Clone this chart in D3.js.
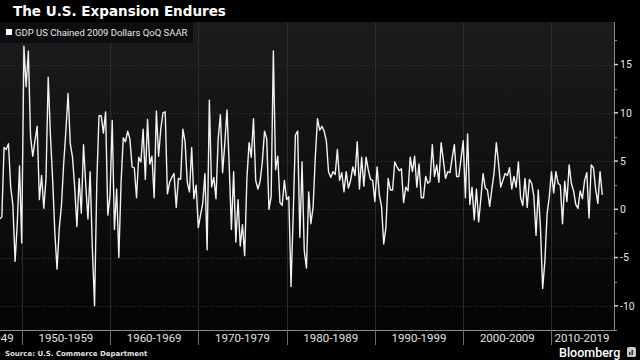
<!DOCTYPE html>
<html>
<head>
<meta charset="utf-8">
<script src="https://cdn.jsdelivr.net/npm/d3@7"></script>
<style>
  html, body { margin: 0; padding: 0; background: #000; }
  svg { display: block; }
</style>
</head>
<body>
<svg id="chart" width="640" height="360"></svg>
<script>
// ---- Data (US GDP, chained 2009 dollars, QoQ SAAR %, quarterly, from 1947 Q2) ----
const firstYear = 1947;
const firstQuarter = 2;
const gdpQoQ = [
  -1.0, -0.8, 6.4,
  6.2, 6.8, 2.3, 0.4,
  -5.4, -1.4, 4.5, -3.5,
  16.9, 12.7, 16.4, 7.5,
  5.5, 7.1, 8.6, 1.0,
  3.5, 0.1, 3.2, 13.7,
  7.7, 3.1, -2.4, -6.2,
  -2.0, 0.4, 4.7, 8.1,
  12.0, 6.8, 5.4, 2.3,
  -1.8, 3.2, -0.4, 6.7,
  2.6, -1.0, 3.9, -4.1,
  -10.0, 2.6, 9.7, 9.7,
  7.9, 10.1, -0.6, 1.4,
  9.2, -2.1, 2.1, -5.0,
  2.7, 7.4, 7.0, 8.1,
  7.3, 4.4, 4.3, 1.2,
  5.4, 4.9, 8.3, 3.1,
  9.3, 4.7, 5.5, 1.2,
  10.2, 5.5, 8.3, 10.0,
  10.1, 1.6, 2.8, 3.3,
  3.7, 0.2, 3.2, 3.1,
  8.3, 7.0, 2.8, 1.8,
  6.4, 1.1, 2.5, -1.9,
  -0.6, 0.6, 3.7, -4.2,
  11.3, 2.3, 3.3, 1.1,
  7.3, 9.8, 3.8, 6.8,
  10.3, 4.5, -2.1, 3.9,
  -3.4, 1.0, -3.8, -1.6,
  -4.8, 3.1, 6.9, 5.4,
  9.4, 3.0, 2.1, 2.9,
  4.9, 8.1, 7.3, 0.0,
  1.3, 16.4, 4.1, 5.5,
  0.7, 0.4, 3.0, 1.0,
  1.3, -8.0, -0.5, 7.7,
  8.1, -2.9, 4.9, -4.3,
  -6.1, 1.8, -1.5, 0.2,
  5.4, 9.4, 8.2, 8.6,
  8.1, 7.1, 3.9, 3.3,
  3.9, 3.6, 6.2, 3.0,
  3.8, 1.8, 3.9, 2.2,
  3.0, 4.4, 3.5, 7.0,
  2.1, 5.4, 2.4, 5.4,
  4.1, 3.1, 3.0, 0.8,
  4.4, 1.5, 0.3, -3.6,
  -1.9, 3.2, 2.0, 2.0,
  4.9, 4.4, 4.0, 4.2,
  0.7, 2.3, 1.9, 5.4,
  3.9, 5.5, 2.3, 4.7,
  1.2, 1.2, 3.4, 2.7,
  2.9, 6.7, 3.4, 4.6,
  2.8, 6.9, 5.1, 3.2,
  3.9, 3.8, 5.3, 6.7,
  3.4, 3.4, 5.2, 7.1,
  1.2, 7.8, 0.5, 2.3,
  -1.1, 2.1, -1.3, 1.1,
  3.7, 2.2, 2.0, 0.3,
  2.1, 3.8, 6.9, 4.8,
  2.3, 3.0, 3.7, 3.5,
  4.3, 2.1, 3.4, 2.3,
  4.9, 1.2, 0.4, 3.2,
  0.2, 3.1, 2.7, 1.4,
  -2.7, 2.0, -1.9, -8.2,
  -5.4, -0.5, 1.3, 3.9,
  1.7, 3.9, 2.7, 2.5,
  -1.5, 2.9, 0.8, 4.6,
  2.7, 1.9, 0.5, 0.1,
  1.9, 1.1, 3.0, 3.8,
  -0.9, 4.6, 4.3, 2.1,
  0.6, 3.9, 1.5
];
const decadeStarts = [1940, 1950, 1960, 1970, 1980, 1990, 2000, 2010];
const decadeLabels = ["1940-1949", "1950-1959", "1960-1969", "1970-1979", "1980-1989", "1990-1999", "2000-2009", "2010-2019"];
const yTicks = [-10, -5, 0, 5, 10, 15];
const yMinorTicks = [-12.5, -7.5, -2.5, 2.5, 7.5, 12.5, 17.5];
const titleText = "The U.S. Expansion Endures";
const legendText = "GDP US Chained 2009 Dollars QoQ SAAR";
const sourceText = "Source: U.S. Commerce Department";

// quarter-end positions in decimal years
const points = gdpQoQ.map((v, i) => {
  const qIndex = (firstQuarter - 1) + i;
  const year = firstYear + Math.floor(qIndex / 4);
  const q = qIndex % 4 + 1;
  return { t: year + q * 0.25, v: v };
});

const svg = d3.select("#chart");
const plot = { left: 0, right: 614, top: 22, bottom: 330 };

const x = d3.scaleLinear().domain([1947.54, 2017.08]).range([plot.left, plot.right]);
const y = d3.scaleLinear().domain([-12.51, 19.41]).range([plot.bottom, plot.top]);

// background
svg.append("rect").attr("width", 640).attr("height", 360).attr("fill", "#000");
const defs = svg.append("defs");
const grad = defs.append("linearGradient").attr("id", "bg").attr("x1", 0).attr("y1", 0).attr("x2", 0).attr("y2", 1);
grad.append("stop").attr("offset", "0%").attr("stop-color", "#1c1c1f");
grad.append("stop").attr("offset", "100%").attr("stop-color", "#040406");
defs.append("clipPath").attr("id", "clip").append("rect")
  .attr("x", plot.left).attr("y", plot.top)
  .attr("width", plot.right - plot.left).attr("height", plot.bottom - plot.top);

svg.append("rect")
  .attr("x", plot.left).attr("y", plot.top)
  .attr("width", plot.right - plot.left).attr("height", plot.bottom - plot.top)
  .attr("fill", "url(#bg)");

// vertical grid at decade boundaries
svg.append("g").selectAll("line")
  .data(decadeStarts.filter(d => x(d) > plot.left))
  .join("line")
  .attr("x1", d => Math.round(x(d)) + 0.5).attr("x2", d => Math.round(x(d)) + 0.5)
  .attr("y1", plot.top).attr("y2", plot.bottom)
  .attr("stroke", "#2c2c30").attr("stroke-width", 1);

// horizontal grid (dotted)
svg.append("g").selectAll("line")
  .data(yTicks)
  .join("line")
  .attr("x1", plot.left).attr("x2", plot.right)
  .attr("y1", d => Math.round(y(d)) + 0.5).attr("y2", d => Math.round(y(d)) + 0.5)
  .attr("stroke", "#38383c").attr("stroke-width", 1)
  .attr("stroke-dasharray", "1,2");

// data line
const line = d3.line().x(d => x(d.t)).y(d => y(d.v));
svg.append("path")
  .datum(points)
  .attr("clip-path", "url(#clip)")
  .attr("d", line)
  .attr("fill", "none")
  .attr("stroke", "#f2f2f2")
  .attr("stroke-width", 1.4)
  .attr("stroke-linejoin", "round");

// right axis
const yAxisG = svg.append("g");
yAxisG.append("line")
  .attr("x1", plot.right + 0.5).attr("x2", plot.right + 0.5)
  .attr("y1", plot.top).attr("y2", plot.bottom)
  .attr("stroke", "#8a8a8a").attr("stroke-width", 1);
yAxisG.selectAll("line.maj").data(yTicks).join("line").attr("class", "maj")
  .attr("x1", plot.right).attr("x2", plot.right + 4)
  .attr("y1", d => y(d)).attr("y2", d => y(d))
  .attr("stroke", "#cfcfcf").attr("stroke-width", 1.5);
yAxisG.selectAll("line.min").data(yMinorTicks).join("line").attr("class", "min")
  .attr("x1", plot.right).attr("x2", plot.right + 3)
  .attr("y1", d => Math.round(y(d)) + 0.5).attr("y2", d => Math.round(y(d)) + 0.5)
  .attr("stroke", "#8a8a8a").attr("stroke-width", 1);
yAxisG.selectAll("text").data(yTicks).join("text")
  .attr("x", plot.right + 6).attr("y", d => y(d))
  .attr("dy", "0.36em")
  .attr("fill", "#e6e6e6")
  .attr("font-family", "Roboto, 'Liberation Sans', sans-serif")
  .attr("font-size", 10.5)
  .text(d => d < 0 ? "-" + Math.abs(d) : String(d));

// bottom axis
const xAxisG = svg.append("g");
xAxisG.append("line")
  .attr("x1", plot.left).attr("x2", plot.right + 1)
  .attr("y1", plot.bottom + 0.5).attr("y2", plot.bottom + 0.5)
  .attr("stroke", "#8a8a8a").attr("stroke-width", 1);
xAxisG.selectAll("line.sep")
  .data(decadeStarts.filter(d => x(d) > plot.left))
  .join("line").attr("class", "sep")
  .attr("x1", d => Math.round(x(d)) + 0.5).attr("x2", d => Math.round(x(d)) + 0.5)
  .attr("y1", plot.bottom).attr("y2", plot.bottom + 15)
  .attr("stroke", "#6a6a6a").attr("stroke-width", 1);
xAxisG.selectAll("text").data(decadeStarts).join("text")
  .attr("x", (d, i) => {
    if (i === 0) return x(d + 10) - 8;
    if (i === decadeStarts.length - 1) return x(d) + 3;
    return x(d + 5);
  })
  .attr("text-anchor", (d, i) => i === 0 ? "end" : (i === decadeStarts.length - 1 ? "start" : "middle"))
  .attr("y", 341.5)
  .attr("fill", "#e0e0e0")
  .attr("font-family", "Roboto, 'Liberation Sans', sans-serif")
  .attr("font-size", 11.5)
  .text((d, i) => decadeLabels[i]);

// title
svg.append("text")
  .attr("x", 13).attr("y", 16)
  .attr("fill", "#ffffff")
  .attr("font-family", "'DejaVu Sans', sans-serif")
  .attr("font-weight", "bold")
  .attr("font-size", 13.5)
  .text(titleText);

// legend
svg.append("rect")
  .attr("x", 0).attr("y", 22).attr("width", 193).attr("height", 21)
  .attr("fill", "#0d0d0f");
svg.append("rect")
  .attr("x", 6).attr("y", 29).attr("width", 6).attr("height", 6)
  .attr("fill", "#ffffff");
svg.append("text")
  .attr("x", 15).attr("y", 36)
  .attr("fill", "#e6e6e6")
  .attr("font-family", "Roboto, 'Liberation Sans', sans-serif")
  .attr("font-size", 9.5)
  .text(legendText);

// source
svg.append("text")
  .attr("x", 5).attr("y", 355.5)
  .attr("fill", "#e0e0e0")
  .attr("font-family", "'DejaVu Sans', sans-serif")
  .attr("font-weight", "bold")
  .attr("font-size", 7)
  .text(sourceText);

// Bloomberg brand
svg.append("text")
  .attr("x", 559).attr("y", 356.5)
  .attr("fill", "#ffffff")
  .attr("font-family", "Roboto, sans-serif")
  .attr("font-weight", 500)
  .attr("font-size", 12.5)
  .text("Bloomberg");
const icon = svg.append("g").attr("transform", "translate(627,347)");
icon.append("rect").attr("width", 9).attr("height", 10).attr("rx", 1.5).attr("fill", "#c8c8c8");
icon.append("rect").attr("x", 2).attr("y", 5).attr("width", 1.5).attr("height", 3).attr("fill", "#333");
icon.append("rect").attr("x", 4.5).attr("y", 3).attr("width", 1.5).attr("height", 5).attr("fill", "#333");
</script>
</body>
</html>
